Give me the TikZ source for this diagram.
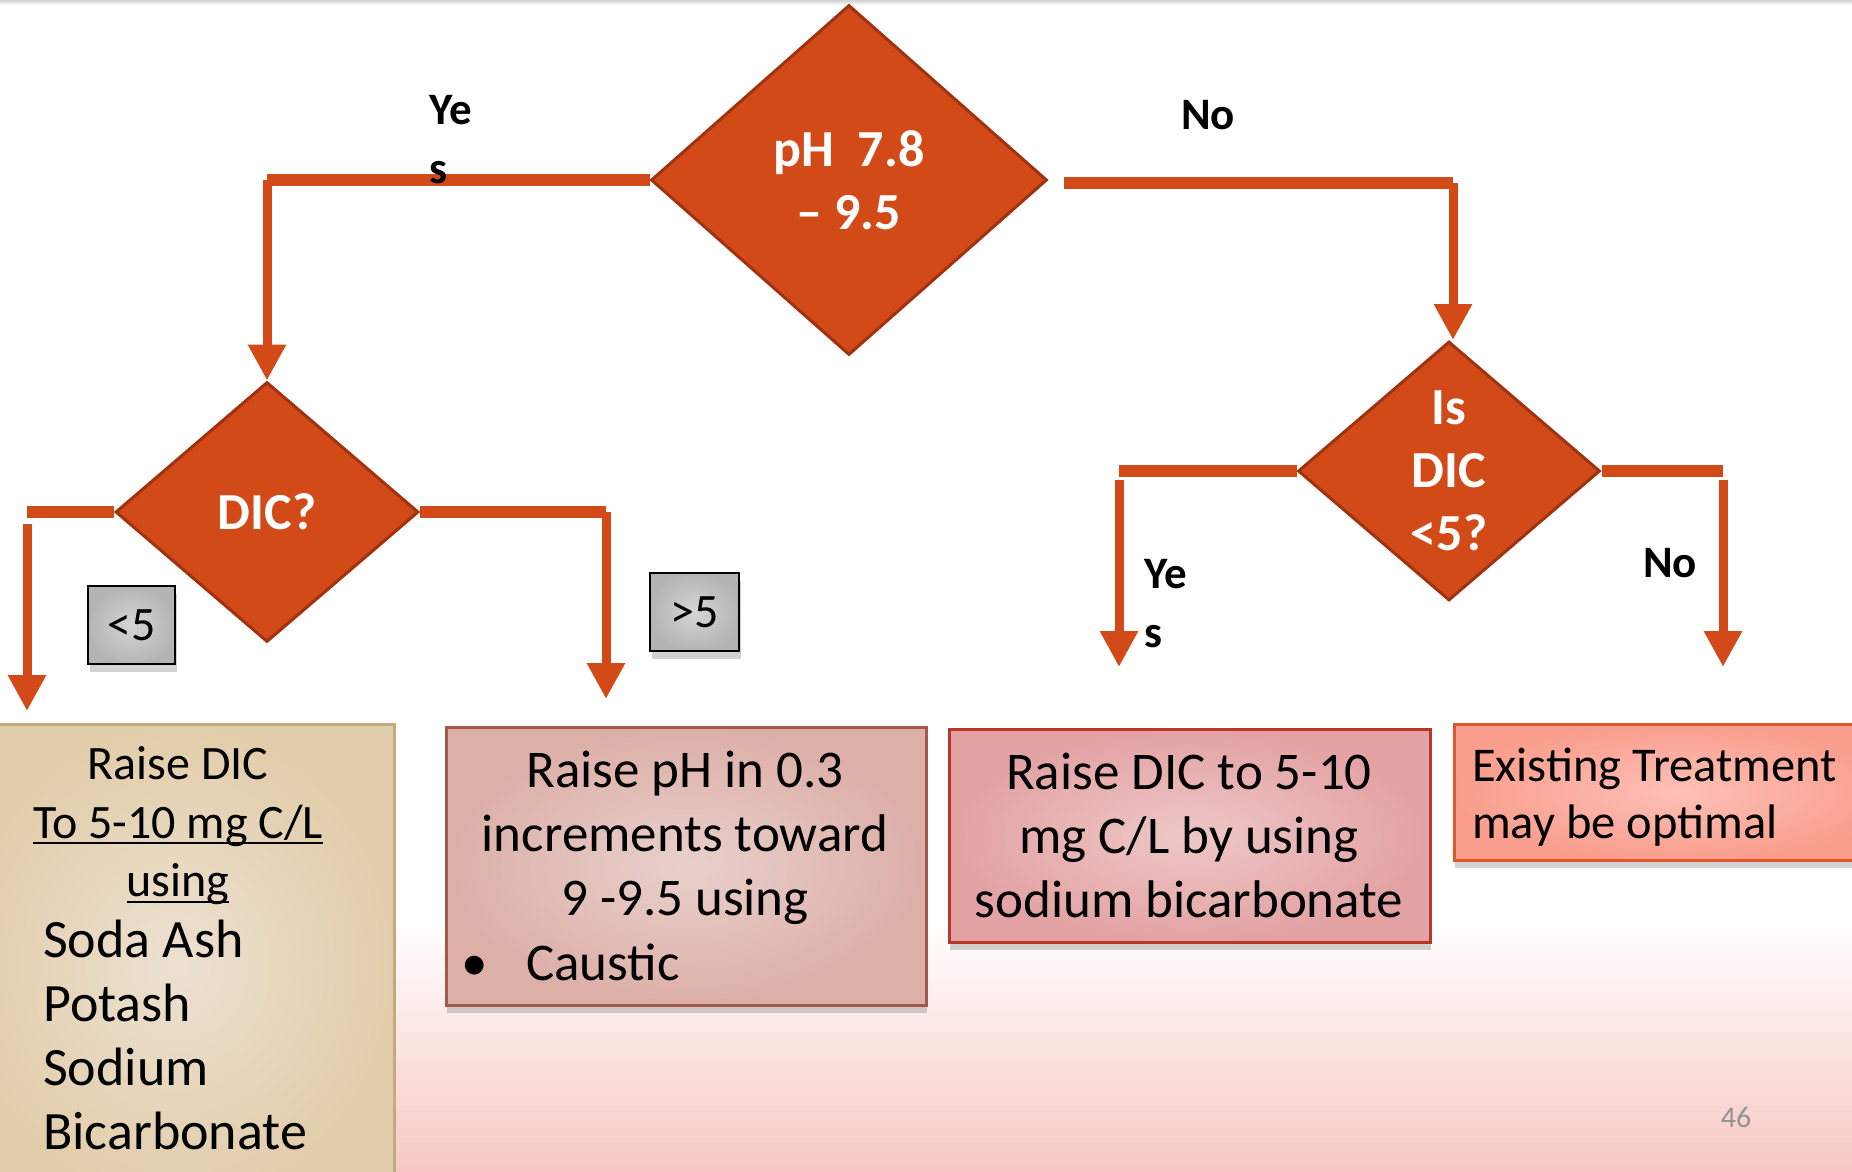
\documentclass[tikz,border=0pt]{standalone}
\usepackage{fontspec}
\setmainfont{Carlito}
\usetikzlibrary{shapes.geometric,arrows.meta,shadows}
\definecolor{orng}{HTML}{D24A18}
\definecolor{orngdk}{HTML}{A0320F}
\definecolor{bgpink}{HTML}{F7C8C3}
\definecolor{tanE}{HTML}{E2CDAA}
\definecolor{tanC}{HTML}{ECE1D1}
\definecolor{tanB}{HTML}{C4A880}
\definecolor{rosE}{HTML}{DCAFA7}
\definecolor{rosC}{HTML}{E9D0CC}
\definecolor{rosB}{HTML}{A45A48}
\definecolor{pinkE}{HTML}{E3A2A4}
\definecolor{pinkC}{HTML}{EEC7C6}
\definecolor{pinkB}{HTML}{B9362B}
\definecolor{salE}{HTML}{F99E8D}
\definecolor{salC}{HTML}{FDC0B6}
\definecolor{salB}{HTML}{E0552C}
\definecolor{gryE}{HTML}{B4B4B4}
\definecolor{gryC}{HTML}{D6D6D6}
\newcommand\ulx[1]{\setbox0=\hbox{#1}\rlap{\rule[-6pt]{\wd0}{2.2pt}}\box0}
\begin{document}
\begin{tikzpicture}[x=1pt,y=-1pt,
  dia/.style={diamond,draw=orngdk,line width=3pt,fill=orng,inner sep=0pt,text=white,align=center,font=\fontsize{52pt}{63pt}\selectfont\bfseries},
  bar/.style={draw=orng,line width=12pt},
  varrow/.style={draw=orng,line width=9pt,-{Triangle[length=36pt,width=36pt]}},
  yn/.style={font=\fontsize{45pt}{59pt}\selectfont\bfseries,inner sep=0pt,align=left},
  tag/.style={draw=black,line width=2.5pt,inner color=gryC,outer color=gryE,inner sep=0pt,font=\fontsize{48pt}{50pt}\selectfont,drop shadow={shadow xshift=2pt,shadow yshift=-8pt,opacity=.35}},
  box/.style={line width=2.5pt,anchor=north west,inner sep=0pt,drop shadow={shadow xshift=1pt,shadow yshift=-8pt,opacity=.35}},
  boxtxt/.style={inner sep=0pt,font=\fontsize{53pt}{64pt}\selectfont},
]
\useasboundingbox (0,0) rectangle (1852,1172);
\fill[white] (0,0) rectangle (1852,1172);
\shade[top color=white,bottom color=bgpink] (0,920) rectangle (1852,1172);
\shade[top color=black!18,bottom color=white] (0,0) rectangle (1852,5);

% diamonds
\node[dia,minimum width=396pt,minimum height=350pt] (top) at (849,180) {pH\ \ 7.8\\– 9.5};
\node[dia,minimum width=303pt,minimum height=260pt] (dic) at (267,512) {DIC?};
\node[dia,minimum width=302pt,minimum height=259pt] (isdic) at (1449,471) {Is\\DIC\\<5?};

% connector corner points
\coordinate (y1) at (267,180);
\coordinate (n0) at (1064,183);
\coordinate (n1) at (1453,183);
\coordinate (l1) at (27,512);
\coordinate (l1b) at (27,524);
\coordinate (l2) at (27,711);
\coordinate (r1) at (606,512);
\coordinate (r2) at (606,699);
\coordinate (c1) at (1119,471);
\coordinate (c1b) at (1119,480);
\coordinate (c2) at (1119,667);
\coordinate (d1) at (1723,471);
\coordinate (d1b) at (1723,480);
\coordinate (d2) at (1723,667);

% connectors
\draw[bar] (top.west) -- (y1);
\draw[varrow] (y1) -- (dic.north);
\draw[bar] (n0) -- (n1);
\draw[varrow] (n1) -- (n1 |- isdic.north);
\draw[bar] (dic.west) -- (l1);
\draw[varrow] (l1b) -- (l2);
\draw[bar] (dic.east) -- (r1);
\draw[varrow] (r1) -- (r2);
\draw[bar] (isdic.west) -- (c1);
\draw[varrow] (c1b) -- (c2);
\draw[bar] (isdic.east) -- (d1);
\draw[varrow] (d1b) -- (d2);

% yes / no labels
\node[yn,anchor=west] (yes1) at (429,140) {Ye\\s};
\node[yn] (no1) at (1208,115) {No};
\node[yn,anchor=west] (yes2) at (1144,604) {Ye\\s};
\node[yn] (no2) at (1670,563) {No};

% tags
\node[tag,minimum width=87pt,minimum height=78pt] (lt5) at (131.5,625) {<5};
\node[tag,minimum width=89pt,minimum height=78pt] (gt5) at (694.5,612) {>5};

% result boxes
\node[box,draw=tanB,inner color=tanC,outer color=tanE,minimum width=433pt,minimum height=480pt] (b1) at (-40,723) {};
\node[box,draw=rosB,inner color=rosC,outer color=rosE,minimum width=480pt,minimum height=278pt] (b2) at (445,726) {};
\node[box,draw=pinkB,inner color=pinkC,outer color=pinkE,minimum width=481pt,minimum height=213pt] (b3) at (948,728) {};
\node[box,draw=salB,inner color=salC,outer color=salE,minimum width=447pt,minimum height=136pt] (b4) at (1453,723) {};

% box texts
\node[boxtxt,font=\fontsize{48pt}{58.5pt}\selectfont,align=center] (t1a) at (178,826) {Raise DIC\\\ulx{To 5-10 mg C/L}\\\ulx{using}};
\node[boxtxt,font=\fontsize{54pt}{64pt}\selectfont,align=left,anchor=west] (t1b) at (43,1035) {Soda Ash\\Potash\\Sodium\\Bicarbonate};
\node[boxtxt,align=center] (t2a) at (685,838) {Raise pH in 0.3\\increments toward\\9 -9.5 using};
\node[boxtxt,anchor=west] (t2b) at (461,962) {\makebox[65pt][l]{•}Caustic};
\node[boxtxt,align=center] (t3) at (1189,835) {Raise DIC to 5-10\\mg C/L by using\\sodium bicarbonate};
\node[boxtxt,font=\fontsize{48.5pt}{57pt}\selectfont,align=left,anchor=west] (t4) at (1472,797) {Existing Treatment\\may be optimal};
\node[font=\fontsize{30pt}{36pt}\selectfont,text=gray!85,inner sep=0pt] (pg) at (1736,1117) {46};
\end{tikzpicture}
\end{document}
